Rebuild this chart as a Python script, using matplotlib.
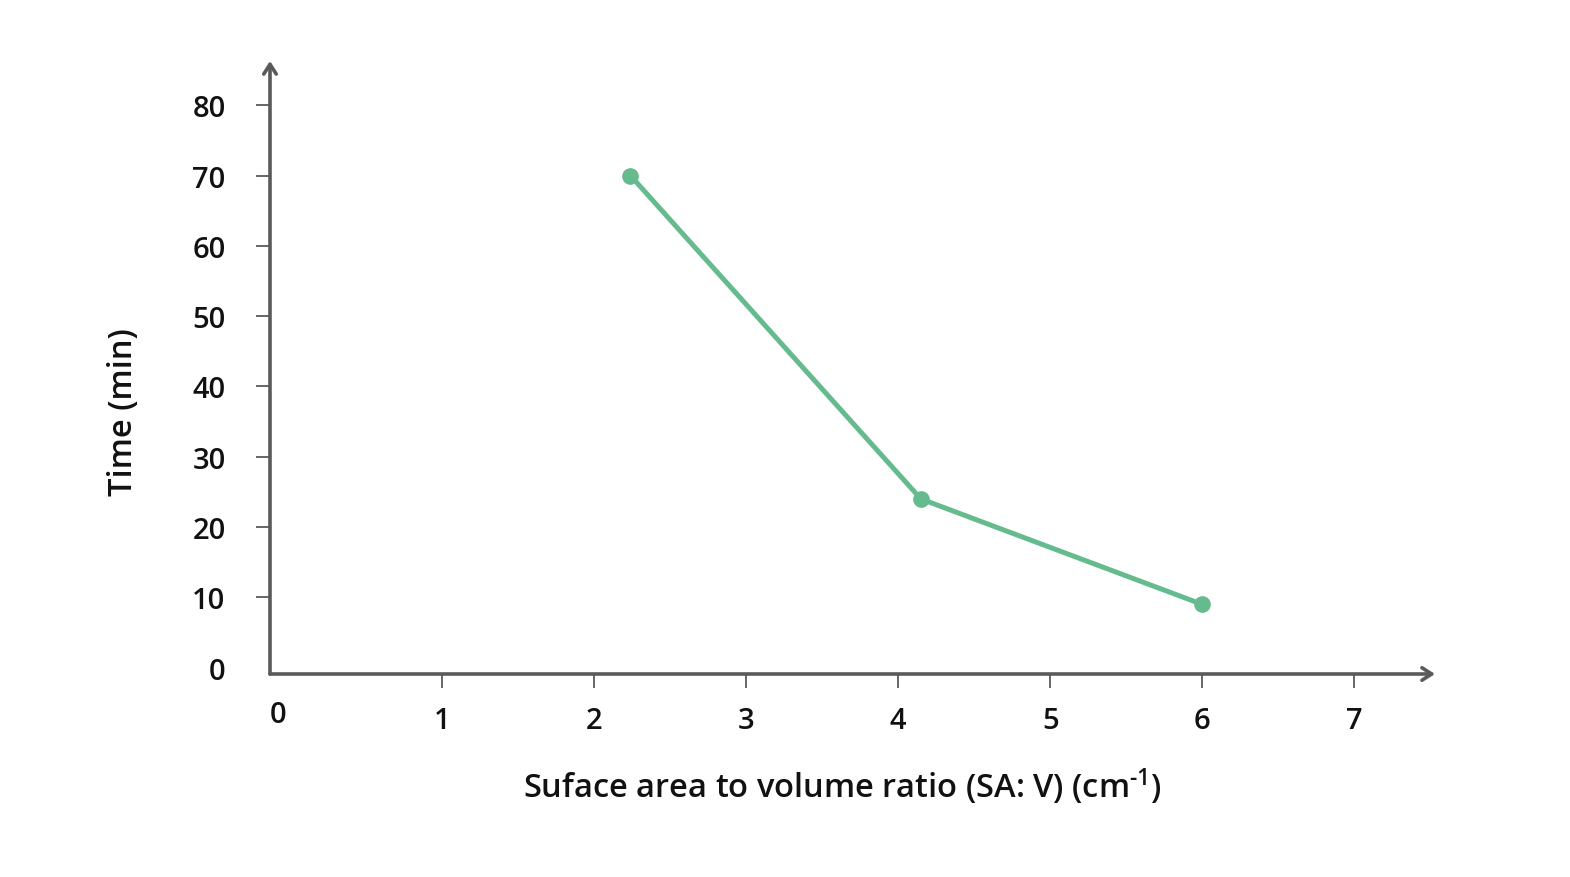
import matplotlib
matplotlib.use('Agg')
import matplotlib.pyplot as plt
import matplotlib.transforms as mtransforms

# data
sa_v = [2.24, 4.15, 6.0]
time_min = [70, 24, 9]
x_ticks = [0, 1, 2, 3, 4, 5, 6, 7]
y_ticks = [0, 10, 20, 30, 40, 50, 60, 70, 80]

plt.rcParams['font.family'] = ['Open Sans', 'DejaVu Sans']
plt.rcParams['mathtext.fontset'] = 'custom'
plt.rcParams['mathtext.rm'] = 'Open Sans:semibold'
plt.rcParams['mathtext.it'] = 'Open Sans:semibold'

axis_col = '#5a5a5a'
green = '#66bb8e'

fig = plt.figure(figsize=(15.7, 8.78), dpi=100)
ax = fig.add_axes([270/1570, 1 - 675/878, 1165/1570, 613/878])

ax.plot(sa_v, time_min, color=green, lw=3.6, marker='o', ms=11,
        solid_capstyle='round', zorder=3)

ax.set_xlim(-0.13, 7.53)
ax.set_ylim(-0.9, 86.3)

for s in ax.spines.values():
    s.set_visible(False)

# axes with open arrow heads
arrow = dict(arrowstyle='->,head_length=0.7,head_width=0.45', color=axis_col,
             lw=2.6, shrinkA=0, shrinkB=0)
ax.annotate('', xy=(1, 0), xytext=(0, 0), xycoords='axes fraction',
            arrowprops=arrow)
ax.annotate('', xy=(0, 1), xytext=(0, 0), xycoords='axes fraction',
            arrowprops=arrow)

ax.set_xticks(x_ticks)
ax.set_yticks(y_ticks)
ax.set_xticklabels([str(v) for v in x_ticks])
ax.set_yticklabels([str(v) for v in y_ticks])
ax.tick_params(axis='x', length=10, width=1.3, color=axis_col, pad=13,
               labelsize=21)
ax.tick_params(axis='y', length=10, width=1.3, color=axis_col, pad=22,
               labelsize=21)
for lab in ax.get_xticklabels() + ax.get_yticklabels():
    lab.set_fontweight('semibold')
    lab.set_color('#111111')

# no tick marks at the origin
ax.xaxis.get_major_ticks()[0].tick1line.set_visible(False)
ax.yaxis.get_major_ticks()[0].tick1line.set_visible(False)
lab0 = ax.get_xticklabels()[0]
lab0.set_transform(lab0.get_transform() +
                   mtransforms.ScaledTranslation(-12/100, 6/100, fig.dpi_scale_trans))

ax.set_xlabel(r'Suface area to volume ratio (SA: V) (cm$^{\text{-1}}$)', fontsize=23.5,
              fontweight='semibold', color='#111111', va='center')
ax.xaxis.set_label_coords(0.491, -0.183)
ax.set_ylabel('Time (min)', fontsize=23.5, fontweight='semibold',
              color='#111111', va='center')
ax.yaxis.set_label_coords(-0.126, 0.429)

fig.savefig('out.png', dpi=100)
